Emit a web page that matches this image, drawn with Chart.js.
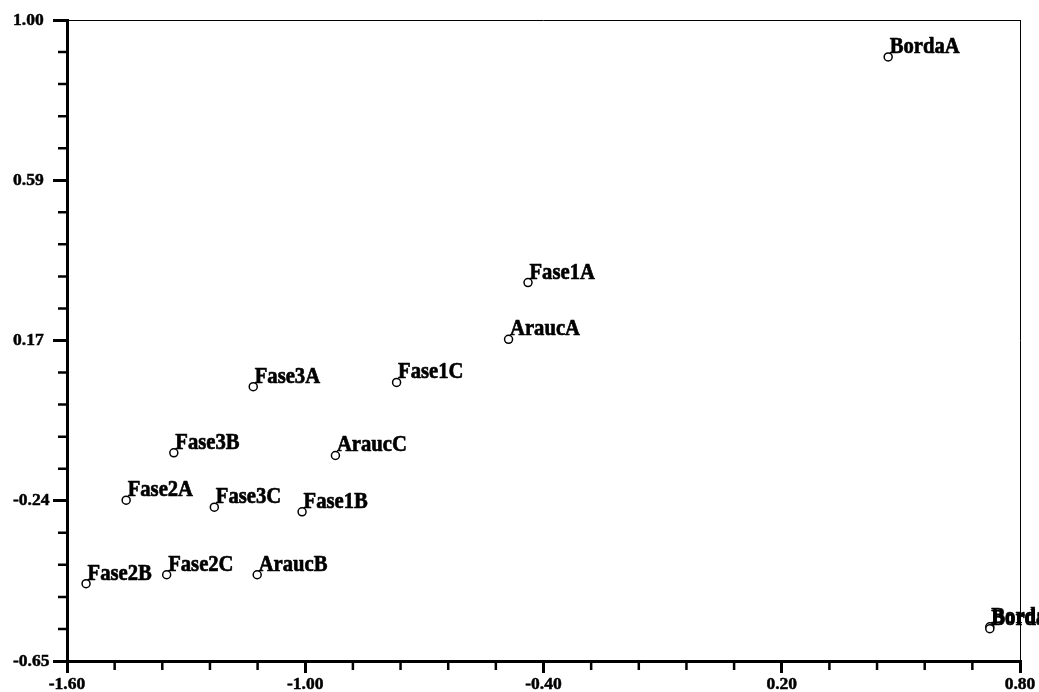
<!DOCTYPE html>
<html>
<head>
<meta charset="utf-8">
<script src="https://cdn.jsdelivr.net/npm/chart.js@4.4.0/dist/chart.umd.min.js"></script>
<style>
html,body{margin:0;padding:0;background:#fff;}
#wrap{width:1039px;height:692px;position:relative;}
</style>
</head>
<body>
<div id="wrap"><canvas id="c"></canvas></div>
<script>
const labels = ['BordaA','Fase1A','AraucA','Fase1C','Fase3A','Fase3B','AraucC','Fase2A','Fase3C','Fase1B','Fase2B','Fase2C','AraucB','BordaB','BordaC'];
const xValues = [0.468,-0.439,-0.488,-0.770,-1.131,-1.331,-0.924,-1.451,-1.229,-1.008,-1.552,-1.349,-1.121,0.724,0.724];
const yValues = [0.905,0.324,0.178,0.067,0.056,-0.114,-0.121,-0.236,-0.254,-0.266,-0.451,-0.428,-0.428,-0.562,-0.567];
const xTickValues = [-1.6,-1.0,-0.4,0.2,0.8];
const xTickLabels = ['-1.60','-1.00','-0.40','0.20','0.80'];
const yTickValues = [-0.65,-0.2375,0.175,0.5875,1.0];
const yTickLabels = ['-0.65','-0.24','0.17','0.59','1.00'];
const xMinorStep = 0.12;
const yMinorStep = 0.0825;

const points = xValues.map((x,i)=>({x:x,y:yValues[i]}));
const axisFont = {family:'"Liberation Serif","Times New Roman",serif', size:17.5, weight:'bold'};

const framePlugin = {
  id:'frame',
  afterDraw(chart){
    const ctx = chart.ctx, a = chart.chartArea;
    const xs = chart.scales.x, ys = chart.scales.y;
    ctx.save();
    ctx.strokeStyle = '#000';
    ctx.lineWidth = 1;
    ctx.beginPath();
    ctx.moveTo(a.left, a.top + 0.5); ctx.lineTo(a.right, a.top + 0.5);
    ctx.moveTo(a.right + 0.5, a.top); ctx.lineTo(a.right + 0.5, a.bottom);
    ctx.stroke();
    ctx.lineWidth = 2.5;
    ctx.beginPath();
    for (let i = 0; i <= 20; i++) {
      if (i % 5 === 0) continue;
      const py = ys.getPixelForValue(yTickValues[0] + yMinorStep * i);
      ctx.moveTo(a.left - 9, py); ctx.lineTo(a.left, py);
      const px = xs.getPixelForValue(xTickValues[0] + xMinorStep * i);
      ctx.moveTo(px, a.bottom); ctx.lineTo(px, a.bottom + 9);
    }
    ctx.stroke();
    ctx.fillStyle = '#000';
    ctx.strokeStyle = '#000';
    ctx.lineWidth = 0.7;
    ctx.lineJoin = 'round';
    ctx.font = 'bold 24px "Liberation Serif","Times New Roman",serif';
    ctx.textAlign = 'left';
    ctx.textBaseline = 'alphabetic';
    const sx = 0.86;
    points.forEach((p,i)=>{
      const px = xs.getPixelForValue(p.x), py = ys.getPixelForValue(p.y);
      ctx.save();
      ctx.translate(px + 1.5, py - 4);
      ctx.scale(sx, 1);
      ctx.fillText(labels[i], 0, 0);
      ctx.strokeText(labels[i], 0, 0);
      ctx.restore();
    });
    ctx.restore();
  }
};

new Chart(document.getElementById('c'), {
  type:'scatter',
  data:{datasets:[{
    data:points,
    pointRadius:4,
    pointHoverRadius:4,
    pointBorderWidth:1.5,
    pointBorderColor:'#000',
    pointBackgroundColor:'#fff',
    showLine:false
  }]},
  options:{
    responsive:true,
    maintainAspectRatio:false,
    animation:false,
    events:[],
    layout:{padding:{left:13,top:20,right:19,bottom:0}},
    plugins:{legend:{display:false},tooltip:{enabled:false}},
    scales:{
      x:{
        type:'linear', min:-1.6, max:0.8,
        afterBuildTicks:(s)=>{ s.ticks = xTickValues.map(v=>({value:v})); },
        afterFit:(s)=>{ s.height = 31; },
        ticks:{
          autoSkip:false, maxRotation:0, padding:1, color:'#000', font:axisFont,
          textStrokeColor:'#000', textStrokeWidth:0.5,
          callback:(v,i)=>xTickLabels[i]
        },
        grid:{drawOnChartArea:false, drawTicks:true, tickLength:12, lineWidth:3, color:'#000'},
        border:{display:true, width:3, color:'#000'}
      },
      y:{
        type:'linear', min:-0.65, max:1.0,
        afterBuildTicks:(s)=>{ s.ticks = yTickValues.map(v=>({value:v})); },
        afterFit:(s)=>{ s.width = 54; },
        ticks:{
          autoSkip:false, padding:2, color:'#000', font:axisFont, crossAlign:'far',
          textStrokeColor:'#000', textStrokeWidth:0.5,
          callback:(v,i)=>yTickLabels[i]
        },
        grid:{drawOnChartArea:false, drawTicks:true, tickLength:14, lineWidth:3, color:'#000'},
        border:{display:true, width:3, color:'#000'}
      }
    }
  },
  plugins:[framePlugin]
});
</script>
</body>
</html>
